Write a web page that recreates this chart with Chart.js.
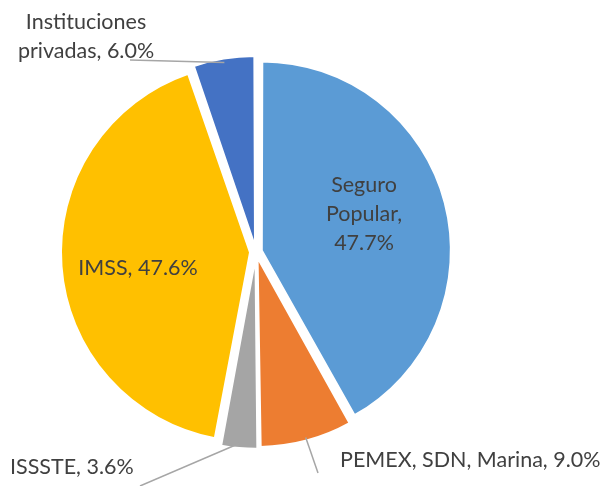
<!DOCTYPE html>
<html>
<head>
<meta charset="utf-8">
<script src="https://cdn.jsdelivr.net/npm/chart.js@4/dist/chart.umd.min.js"></script>
<style>
  html, body { margin: 0; padding: 0; background: #ffffff; }
  #wrap { width: 600px; height: 486px; }
</style>
</head>
<body>
<div id="wrap"><canvas id="c" width="600" height="486"></canvas></div>
<script>
// ---- data ----
const categories = ['Seguro Popular', 'PEMEX, SDN, Marina', 'ISSSTE', 'IMSS', 'Instituciones privadas'];
const values = [47.7, 9.0, 3.6, 47.6, 6.0];
const colors = ['#5B9BD5', '#ED7D31', '#A5A5A5', '#FFC000', '#4472C4'];

// ---- label placement (pixel offsets from the pie centre) ----
const labelPlace = [
  { dx: 108, dy: -60, align: 'center', wrap: 100, leader: null },
  { dx: 84, dy: 215, align: 'left', wrap: 1000, leader: [62, 221] },
  { dx: -246, dy: 222, align: 'left', wrap: 1000, leader: [-116, 234] },
  { dx: -118, dy: 23, align: 'center', wrap: 1000, leader: null },
  { dx: -170, dy: -223, align: 'center', wrap: 150, leader: [-126, -192] }
];
const FONT = '21.5px Lato';
const LINE_H = 29;

function wrapText(ctx, text, maxW) {
  const words = text.split(' ');
  const lines = [];
  let cur = '';
  words.forEach(w => {
    const t = cur ? cur + ' ' + w : w;
    if (cur && ctx.measureText(t).width > maxW) { lines.push(cur); cur = w; }
    else cur = t;
  });
  if (cur) lines.push(cur);
  return lines;
}

const labelPlugin = {
  id: 'pieLabels',
  afterDatasetsDraw(chart) {
    const ctx = chart.ctx;
    const meta = chart.getDatasetMeta(0);
    const first = meta.data[0];
    const cx = first.x, cy = first.y;
    ctx.save();
    // leader lines
    meta.data.forEach((arc, i) => {
      const p = labelPlace[i];
      if (!p.leader) return;
      const mid = (arc.startAngle + arc.endAngle) / 2;
      const off = (arc.options.offset || 0) / 4;
      const ax = arc.x + Math.cos(mid) * (off + arc.outerRadius);
      const ay = arc.y + Math.sin(mid) * (off + arc.outerRadius);
      ctx.beginPath();
      ctx.strokeStyle = '#A6A6A6';
      ctx.lineWidth = 1.5;
      ctx.moveTo(cx + p.leader[0], cy + p.leader[1]);
      ctx.lineTo(ax, ay);
      ctx.stroke();
    });
    // text
    ctx.font = FONT;
    ctx.fillStyle = '#404040';
    ctx.textBaseline = 'alphabetic';
    categories.forEach((cat, i) => {
      const p = labelPlace[i];
      const text = cat + ', ' + values[i].toFixed(1) + '%';
      const lines = wrapText(ctx, text, p.wrap);
      ctx.textAlign = p.align;
      lines.forEach((ln, k) => {
        ctx.fillText(ln, cx + p.dx, cy + p.dy + k * LINE_H);
      });
    });
    ctx.restore();
  }
};

new Chart(document.getElementById('c'), {
  type: 'pie',
  data: {
    labels: categories,
    datasets: [{
      data: values,
      backgroundColor: colors,
      borderColor: '#ffffff',
      borderWidth: 2,
      offset: 24,
      hoverOffset: 0,
      radius: 186
    }]
  },
  options: {
    responsive: false,
    animation: false,
    layout: { padding: { left: 0, right: 88, top: 18, bottom: 0 } },
    plugins: { legend: { display: false }, tooltip: { enabled: false } },
    events: []
  },
  plugins: [labelPlugin]
});
</script>
</body>
</html>
